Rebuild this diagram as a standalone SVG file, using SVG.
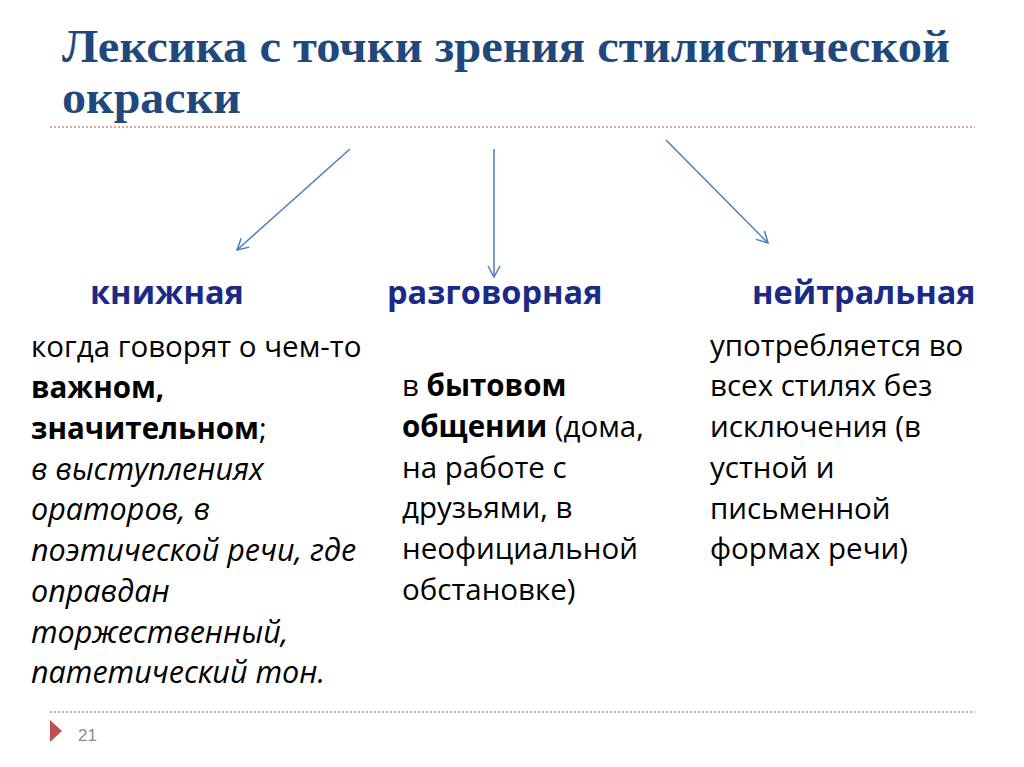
<svg xmlns="http://www.w3.org/2000/svg" width="1024" height="767" viewBox="0 0 1024 767">
<defs>
<style>
.title{font-family:"Liberation Serif",serif;font-weight:bold;font-size:47px;fill:#1F497D}
.head{font-family:"Open Sans","Liberation Sans",sans-serif;font-weight:bold;font-size:32.5px;fill:#1B2A86}
.body{font-family:"Open Sans","Liberation Sans",sans-serif;font-size:29.5px;fill:#000}
.b{font-weight:bold}
.i{font-style:italic;font-size:30.5px}
.dot{stroke:#C0504D;stroke-width:1.2;stroke-dasharray:2 2;fill:none}
.arr{stroke:#4A7EBB;stroke-width:1.5;fill:none}
</style>
<marker id="ah" markerWidth="14" markerHeight="14" refX="12" refY="7" orient="auto" markerUnits="userSpaceOnUse">
<path d="M1,1 L12,7 L1,13" fill="none" stroke="#4A7EBB" stroke-width="1.5"/>
</marker>
</defs>
<rect width="1024" height="767" fill="#fff"/>
<g id="title">
<text class="title" x="62" y="62" textLength="888" lengthAdjust="spacingAndGlyphs">Лексика с точки зрения стилистической</text>
<text class="title" x="62" y="113" textLength="179" lengthAdjust="spacingAndGlyphs">окраски</text>
</g>
<line class="dot" x1="50" y1="127" x2="975" y2="127"/>
<g id="connectors">
<line class="arr" x1="350" y1="149" x2="237" y2="250" marker-end="url(#ah)"/>
<line class="arr" x1="494" y1="149" x2="494" y2="277" marker-end="url(#ah)"/>
<line class="arr" x1="666" y1="140" x2="768" y2="243" marker-end="url(#ah)"/>
</g>
<g id="knizhnaya">
<text class="head" x="90" y="304">книжная</text>
<text class="body" x="31" y="357">когда говорят о чем-то</text>
<text class="body b" x="31" y="398">важном,</text>
<text class="body" x="31" y="439"><tspan class="b">значительном</tspan>;</text>
<text class="body i" x="31" y="480">в выступлениях</text>
<text class="body i" x="31" y="520">ораторов, в</text>
<text class="body i" x="31" y="561">поэтической речи, где</text>
<text class="body i" x="31" y="602">оправдан</text>
<text class="body i" x="31" y="643">торжественный,</text>
<text class="body i" x="31" y="683">патетический тон.</text>
</g>
<g id="razgovornaya">
<text class="head" x="387" y="304">разговорная</text>
<text class="body" x="402" y="396">в <tspan class="b">бытовом</tspan></text>
<text class="body" x="402" y="437"><tspan class="b">общении</tspan> (дома,</text>
<text class="body" x="402" y="478">на работе с</text>
<text class="body" x="402" y="518">друзьями, в</text>
<text class="body" x="402" y="559">неофициальной</text>
<text class="body" x="402" y="600">обстановке)</text>
</g>
<g id="neytralnaya">
<text class="head" x="752" y="304">нейтральная</text>
<text class="body" x="710" y="356">употребляется во</text>
<text class="body" x="710" y="396">всех стилях без</text>
<text class="body" x="710" y="437">исключения (в</text>
<text class="body" x="710" y="478">устной и</text>
<text class="body" x="710" y="519">письменной</text>
<text class="body" x="710" y="559">формах речи)</text>
</g>
<line class="dot" x1="50" y1="712" x2="975" y2="712"/>
<g id="footer">
<polygon points="50,720 62,731 50,742" fill="#C0504D"/>
<text x="78" y="741" font-family="Liberation Sans,sans-serif" font-size="17" fill="#8C8C8C">21</text>
</g>
</svg>
